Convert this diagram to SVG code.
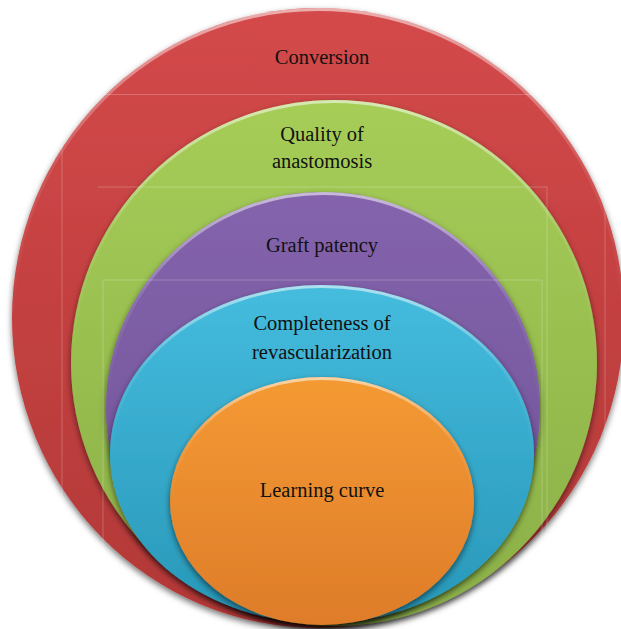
<svg xmlns="http://www.w3.org/2000/svg" width="621" height="629" viewBox="0 0 621 629">
  <style>
    .lbl { font-family: "Liberation Serif", "Times New Roman", serif; font-size: 20.5px; fill: #111; text-anchor: middle; }
    .rim { fill: none; stroke: url(#rim); stroke-width: 3; }
    .box { fill: none; stroke: #ffffff; stroke-opacity: 0.22; stroke-width: 1; }
  </style>
  <defs>
    <filter id="sh" x="-10%" y="-10%" width="120%" height="125%">
      <feDropShadow dx="0" dy="3" stdDeviation="3" flood-color="#000" flood-opacity="0.55"/>
    </filter>
    <linearGradient id="rim" x1="0" y1="0" x2="0" y2="1">
      <stop offset="0" stop-color="#fff" stop-opacity="0.55"/>
      <stop offset="0.25" stop-color="#fff" stop-opacity="0.1"/>
      <stop offset="0.5" stop-color="#fff" stop-opacity="0"/>
    </linearGradient>
    <linearGradient id="gRed" x1="0" y1="0" x2="0" y2="1">
      <stop offset="0" stop-color="#D4494A"/>
      <stop offset="1" stop-color="#B23837"/>
    </linearGradient>
    <linearGradient id="gGreen" x1="0" y1="0" x2="0" y2="1">
      <stop offset="0" stop-color="#A6CD57"/>
      <stop offset="1" stop-color="#8AAF48"/>
    </linearGradient>
    <linearGradient id="gPurple" x1="0" y1="0" x2="0" y2="1">
      <stop offset="0" stop-color="#8464AC"/>
      <stop offset="1" stop-color="#6E5096"/>
    </linearGradient>
    <linearGradient id="gBlue" x1="0" y1="0" x2="0" y2="1">
      <stop offset="0" stop-color="#45BCDE"/>
      <stop offset="1" stop-color="#2897B8"/>
    </linearGradient>
    <linearGradient id="gOrange" x1="0" y1="0" x2="0" y2="1">
      <stop offset="0" stop-color="#F49A33"/>
      <stop offset="1" stop-color="#DE7C2A"/>
    </linearGradient>
  </defs>
  <rect width="621" height="629" fill="#fff"/>
  <g id="conversion">
    <ellipse cx="318" cy="318" rx="306" ry="310" fill="url(#gRed)" filter="url(#sh)"/>
    <ellipse class="rim" cx="318" cy="318" rx="304.5" ry="308.5"/>
    <path class="box" d="M62,600 V94.5 H605 V600"/>
    <text class="lbl" x="322" y="64">Conversion</text>
  </g>
  <g id="quality">
    <ellipse cx="334" cy="363" rx="263" ry="263" fill="url(#gGreen)" filter="url(#sh)"/>
    <ellipse class="rim" cx="334" cy="363" rx="261.5" ry="261.5"/>
    <path class="box" d="M98,187 H547 V530"/>
    <text class="lbl" x="322" y="141">Quality of</text>
    <text class="lbl" x="322" y="168">anastomosis</text>
  </g>
  <g id="graft">
    <ellipse cx="323" cy="408" rx="217" ry="216" fill="url(#gPurple)" filter="url(#sh)"/>
    <ellipse class="rim" cx="323" cy="408" rx="215.5" ry="214.5"/>
    <path class="box" d="M103,600 V280 H542 V600"/>
    <text class="lbl" x="322" y="252">Graft patency</text>
  </g>
  <g id="completeness">
    <ellipse cx="322" cy="454" rx="212" ry="169" fill="url(#gBlue)" filter="url(#sh)"/>
    <ellipse class="rim" cx="322" cy="454" rx="210.5" ry="167.5"/>
    <text class="lbl" x="322" y="330">Completeness of</text>
    <text class="lbl" x="322" y="359">revascularization</text>
  </g>
  <g id="learning">
    <ellipse cx="322" cy="501" rx="152" ry="124" fill="url(#gOrange)" filter="url(#sh)"/>
    <ellipse class="rim" cx="322" cy="501" rx="150.5" ry="122.5"/>
    <text class="lbl" x="322" y="497">Learning curve</text>
  </g>
  <g id="connectors"/>
</svg>
